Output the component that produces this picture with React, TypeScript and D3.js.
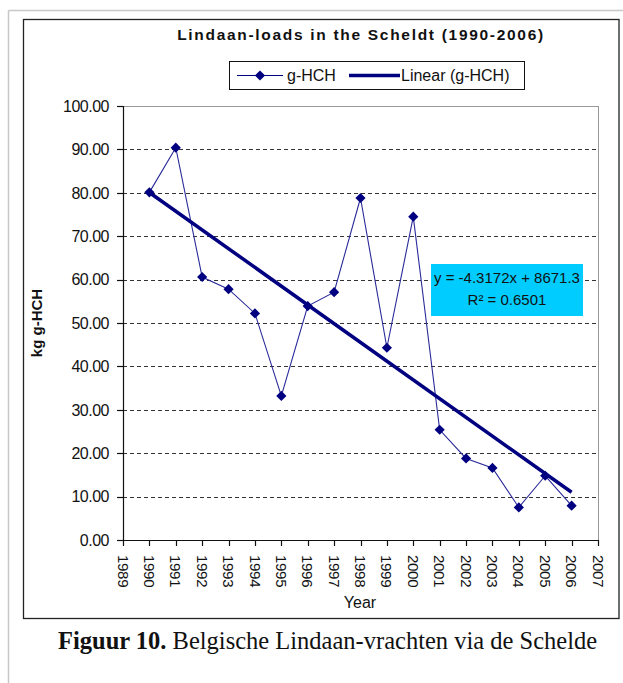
import React from "react";
import * as d3 from "d3";

const years = [1990, 1991, 1992, 1993, 1994, 1995, 1996, 1997, 1998, 1999, 2000, 2001, 2002, 2003, 2004, 2005, 2006];
const values = [80.1, 90.4, 60.6, 57.8, 52.2, 33.2, 53.9, 57.1, 78.8, 44.3, 74.5, 25.4, 18.8, 16.6, 7.5, 14.8, 7.9];
const xTicks = d3.range(1989, 2008);
const yTicks = [0, 10, 20, 30, 40, 50, 60, 70, 80, 90, 100];
const trendSlope = -4.3172;
const trendIntercept = 8671.3;
const trendLabel = "y = -4.3172x + 8671.3";
const r2Label = "R² = 0.6501";
const title = "Lindaan-loads in the Scheldt (1990-2006)";
const seriesName = "g-HCH";
const trendName = "Linear (g-HCH)";
const yTitle = "kg g-HCH";
const xTitle = "Year";

const NAVY = "#000080";
const SANS = "'Liberation Sans', Arial, sans-serif";
const SERIF = "'Liberation Serif', 'Times New Roman', serif";

export default function App() {
  const x = d3.scaleLinear().domain([1989, 2007]).range([123, 598]);
  const y = d3.scaleLinear().domain([0, 100]).range([540, 106]);
  const pts = years.map((yr, i) => [x(yr), y(values[i])] as [number, number]);
  const line = d3.line()(pts) || "";
  const t0 = years[0];
  const t1 = years[years.length - 1];
  const trend = d3.line()([
    [x(t0), y(trendSlope * t0 + trendIntercept)],
    [x(t1), y(trendSlope * t1 + trendIntercept)],
  ]) || "";
  const diamond = d3.symbol(d3.symbolSquare, 52)() || "";
  const [x0, x1] = x.range();
  const [yb, yt] = y.range();

  return (
    <svg width={623} height={683} style={{ position: "absolute", left: 0, top: 0, background: "#fff" }}>
      {/* page frame */}
      <line x1={8.5} y1={10.5} x2={623} y2={10.5} stroke="#c8c8c8" strokeWidth={1.5} />
      <line x1={8.5} y1={10.5} x2={8.5} y2={683} stroke="#c8c8c8" strokeWidth={1.5} />
      {/* chart frame */}
      <rect x={23.5} y={19.5} width={595.5} height={599} fill="#fff" stroke="#222" strokeWidth={1.3} />

      <text x={361} y={40} textAnchor="middle" fontFamily={SANS} fontWeight="bold" fontSize={15.5} letterSpacing={1.7} fill="#111">{title}</text>

      {/* legend */}
      <rect x={229.5} y={61.5} width={295} height={28} fill="#fff" stroke="#111" strokeWidth={1} />
      <line x1={237} y1={75.5} x2={283} y2={75.5} stroke={NAVY} strokeWidth={1} />
      <path d={diamond} transform="translate(260,75.5) rotate(45)" fill={NAVY} />
      <text x={287} y={81} fontFamily={SANS} fontSize={16} fill="#111">{seriesName}</text>
      <line x1={349} y1={75.5} x2={400} y2={75.5} stroke={NAVY} strokeWidth={3.5} />
      <text x={401} y={81} fontFamily={SANS} fontSize={16} fill="#111">{trendName}</text>

      {/* plot area border */}
      <line x1={x0} y1={yt + 0.5} x2={x1} y2={yt + 0.5} stroke="#999" strokeWidth={1} />
      <line x1={x1 + 0.5} y1={yt} x2={x1 + 0.5} y2={yb} stroke="#999" strokeWidth={1} />

      {/* grid */}
      {yTicks.filter((v) => v > 0 && v < 100).map((v) => (
        <line key={v} x1={x0} x2={x1} y1={Math.round(y(v)) + 0.5} y2={Math.round(y(v)) + 0.5} stroke="#333" strokeWidth={1.2} strokeDasharray="4,3" />
      ))}

      {/* y axis */}
      <line x1={x0 + 0.5} y1={yt} x2={x0 + 0.5} y2={yb} stroke="#111" strokeWidth={1.2} />
      {yTicks.map((v) => (
        <g key={v}>
          <line x1={117} x2={x0} y1={Math.round(y(v)) + 0.5} y2={Math.round(y(v)) + 0.5} stroke="#111" strokeWidth={1.2} />
          <text x={109} y={y(v)} dy="0.36em" textAnchor="end" fontFamily={SANS} fontSize={16} letterSpacing={-0.5} fill="#111">{v.toFixed(2)}</text>
        </g>
      ))}

      {/* x axis */}
      <line x1={x0} y1={yb + 0.5} x2={x1 + 1} y2={yb + 0.5} stroke="#111" strokeWidth={1.2} />
      {xTicks.map((t) => (
        <g key={t}>
          <line x1={Math.round(x(t)) + 0.5} x2={Math.round(x(t)) + 0.5} y1={yb} y2={yb + 6} stroke="#111" strokeWidth={1.2} />
          <text transform={`translate(${x(t)},555) rotate(90)`} dy="0.36em" fontFamily={SANS} fontSize={15} letterSpacing={-0.3} fill="#111">{t}</text>
        </g>
      ))}

      <text x={360} y={608} textAnchor="middle" fontFamily={SANS} fontSize={16} fill="#111">{xTitle}</text>
      <text transform="translate(42,323) rotate(-90)" textAnchor="middle" fontFamily={SANS} fontWeight="bold" fontSize={15} fill="#111">{yTitle}</text>

      {/* series */}
      <path d={line} fill="none" stroke="#2a2a9a" strokeWidth={1.1} />
      {pts.map((p, i) => (
        <path key={i} d={diamond} transform={`translate(${p[0]},${p[1]}) rotate(45)`} fill={NAVY} />
      ))}
      <path d={trend} fill="none" stroke={NAVY} strokeWidth={3.5} />

      {/* trend label */}
      <rect x={431} y={264} width={152} height={52} fill="#00ccff" />
      <text x={507} y={283} textAnchor="middle" fontFamily={SANS} fontSize={15} fill="#111">{trendLabel}</text>
      <text x={507} y={305} textAnchor="middle" fontFamily={SANS} fontSize={15} fill="#111">{r2Label}</text>

      {/* caption */}
      <text x={58} y={649} fontFamily={SERIF} fontSize={24.5} fill="#111">
        <tspan fontWeight="bold">Figuur 10.</tspan>
        <tspan> Belgische Lindaan-vrachten via de Schelde</tspan>
      </text>
    </svg>
  );
}
